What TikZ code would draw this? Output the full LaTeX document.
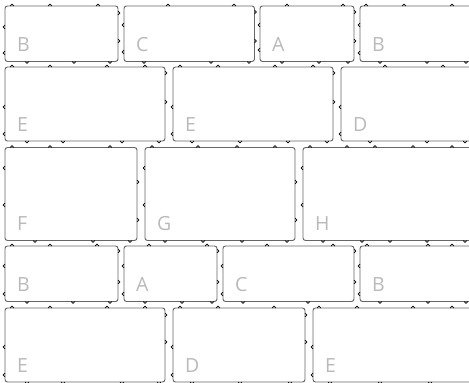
\documentclass[tikz,border=0pt]{standalone}
\usepackage{fontspec}
\setmainfont{Open Sans}
\tikzset{
  brick/.style={draw=black!60, line width=0.95pt, rounded corners=2.5pt, inner sep=0pt, outer sep=0pt, fill=white},
  lab/.style={anchor=base west, text=black!27, inner sep=0pt, font=\fontsize{19.5}{20}\selectfont},
  bump/.style={draw=black, line width=0.7pt}
}
\newcommand\brick[6]{%
  \node[brick, minimum width={#4pt-#2pt}, minimum height={#5pt-#3pt}] (#1) at ({(#2+#4)/2},{(#3+#5)/2}) {};
  \node[lab] (#1l) at ([xshift=12pt,yshift=10pt]#1.south west) {#6};}
\newcommand\bumpT[2]{\draw[bump] ({#1-1.8},#2) arc[start angle=180,end angle=360,radius=1.8];}
\newcommand\bumpB[2]{\draw[bump] ({#1-1.8},#2) arc[start angle=180,end angle=0,radius=1.8];}
\newcommand\bumpL[2]{\draw[bump] (#1,{#2-1.8}) arc[start angle=270,end angle=90,radius=1.8];}
\newcommand\bumpR[2]{\draw[bump] (#1,{#2-1.8}) arc[start angle=270,end angle=450,radius=1.8];}
\begin{document}
\begin{tikzpicture}[x=1pt,y=-1pt]
\useasboundingbox (0,0) rectangle (469,383);
\clip (0,0) rectangle (469,383);
% row 1
\brick{b11}{5}{6}{118}{61.5}{B}
\brick{b12}{124}{6}{254.5}{61.5}{C}
\brick{b13}{260}{6}{354}{61.5}{A}
\brick{b14}{360}{6}{480}{61.5}{B}
% row 2
\brick{b21}{5}{67}{165}{141}{E}
\brick{b22}{173}{67}{333}{141}{E}
\brick{b23}{341}{67}{480}{141}{D}
% row 3
\brick{b31}{5}{147.5}{137}{240.5}{F}
\brick{b32}{145}{147.5}{295}{240.5}{G}
\brick{b33}{303}{147.5}{480}{240.5}{H}
% row 4
\brick{b41}{5}{246}{118}{301.5}{B}
\brick{b42}{124}{246}{217}{301.5}{A}
\brick{b43}{223}{246}{354}{301.5}{C}
\brick{b44}{360}{246}{480}{301.5}{B}
% row 5
\brick{b51}{5}{308}{165}{382}{E}
\brick{b52}{173}{308}{305}{382}{D}
\brick{b53}{313}{308}{480}{382}{E}
% bumps row 1
\foreach \x in {12,50,98,168,234,287,343,366,404,452} {\bumpT{\x}{6}}
\foreach \x in {27,74,110,144,211,249,282,319,348,380,427,466} {\bumpB{\x}{61.5}}
\foreach \y in {27,53} {\bumpL{5}{\y}}
\foreach \y in {25,52} {\bumpL{124}{\y}}
\foreach \y in {25,50} {\bumpL{260}{\y}}
\foreach \y in {25,53} {\bumpL{360}{\y}}
\foreach \y in {13,41} {\bumpR{118}{\y}}
\foreach \y in {12,41} {\bumpR{254.5}{\y}}
\foreach \y in {12,41} {\bumpR{354}{\y}}
% bumps row 2
\foreach \x in {12,50,107,145,180,218,275,313,385,443} {\bumpT{\x}{67}}
\foreach \x in {27,63,122,159,192,240,288,327,370,427,465} {\bumpB{\x}{141}}
\foreach \y in {107,134} {\bumpL{5}{\y}\bumpL{173}{\y}\bumpL{341}{\y}}
\foreach \y in {73,102} {\bumpR{165}{\y}\bumpR{333}{\y}}
% bumps row 3
\foreach \x in {12,50,110,152,198,237,275,310,347,375,413,452} {\bumpT{\x}{147.5}}
\foreach \x in {35,93,130,165,203,242,287,323,362,390,427,465} {\bumpB{\x}{240.5}}
\foreach \y in {168,205} {\bumpL{5}{\y}\bumpL{145}{\y}\bumpL{303}{\y}}
\foreach \y in {182,220} {\bumpR{137}{\y}\bumpR{295}{\y}}
% bumps row 4
\foreach \x in {12,50,97,149,207,267,333,367,428,452} {\bumpT{\x}{246}}
\foreach \x in {27,73,110,145,182,212,243,308,380,428,466} {\bumpB{\x}{301.5}}
\foreach \y in {266,294} {\bumpL{5}{\y}\bumpL{124}{\y}\bumpL{223}{\y}\bumpL{360}{\y}}
\foreach \y in {251,282} {\bumpR{118}{\y}\bumpR{217}{\y}\bumpR{354}{\y}}
% bumps row 5
\foreach \x in {12,50,107,145,180,218,274,319,357,413,452} {\bumpT{\x}{308}}
\foreach \x in {27,63,122,159,192,240,290,330,380,430} {\bumpB{\x}{382}}
\foreach \y in {347,375} {\bumpL{5}{\y}\bumpL{173}{\y}\bumpL{313}{\y}}
\foreach \y in {315,342} {\bumpR{165}{\y}\bumpR{305}{\y}}
\end{tikzpicture}
\end{document}
